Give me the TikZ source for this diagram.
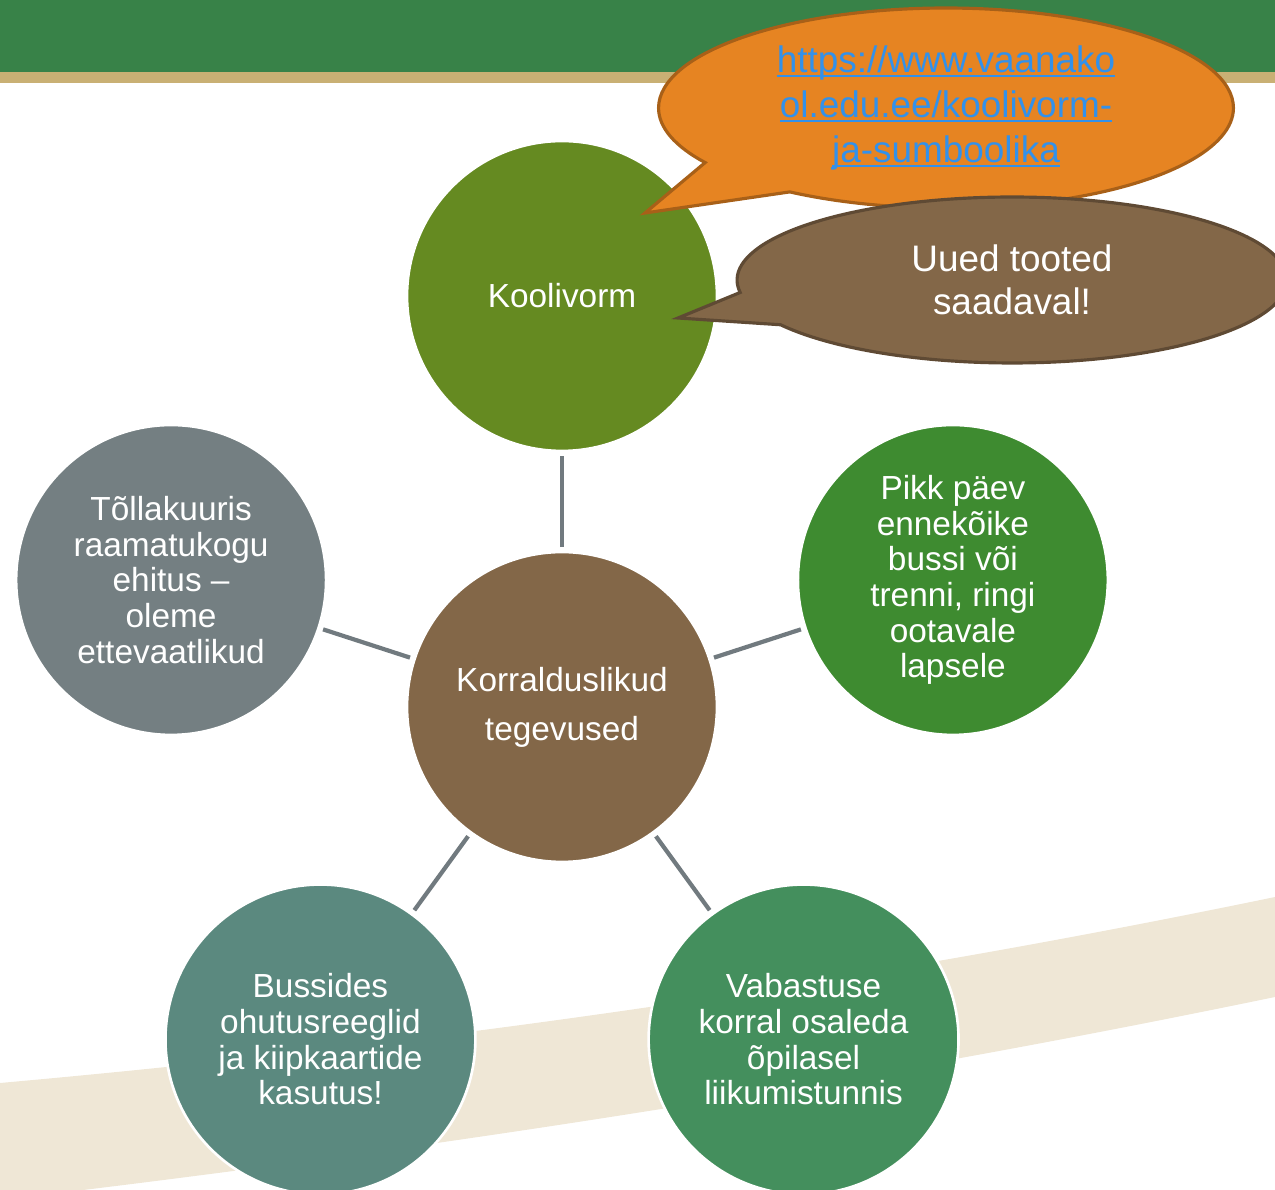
\documentclass[tikz,border=0pt]{standalone}
\usepackage{fontspec}
\setmainfont{Liberation Sans}
\usetikzlibrary{positioning,shapes.callouts,calc}
\definecolor{bannergreen}{RGB}{56,130,72}
\definecolor{bannertan}{RGB}{201,176,116}
\definecolor{bandbeige}{RGB}{239,231,214}
\definecolor{olivegreen}{RGB}{101,138,33}
\definecolor{mybrown}{RGB}{131,103,72}
\definecolor{mygray}{RGB}{116,127,130}
\definecolor{leafgreen}{RGB}{62,139,48}
\definecolor{myteal}{RGB}{91,137,127}
\definecolor{seagreen}{RGB}{68,143,93}
\definecolor{linkgray}{RGB}{113,122,127}
\definecolor{myorange}{RGB}{230,132,34}
\definecolor{orangeedge}{RGB}{168,96,24}
\definecolor{brownedge}{RGB}{95,74,52}
\definecolor{linkblue}{RGB}{50,145,235}
\newsavebox\linkbox
\newcommand\linkline[1]{\sbox\linkbox{#1}\rlap{\rule[-2.6pt]{\wd\linkbox}{1.1pt}}\usebox\linkbox}

\begin{document}
\begin{tikzpicture}[x=0.02cm,y=0.02cm,
    bubble/.style={circle,draw=white,line width=1.5pt,minimum size=6.2cm,inner sep=0pt,
      align=center,text=white,font=\fontsize{19}{20.3}\selectfont},
    connector/.style={draw=linkgray,line width=2.4pt,shorten >=2pt,shorten <=2pt},
    saying/.style={ellipse callout,line width=1.8pt,inner sep=0pt,align=center,callout pointer arc=24}
  ]
  \useasboundingbox (0,0) rectangle (1275,1190);
  \clip (0,0) rectangle (1275,1190);

  % the background
  \fill[bandbeige] (0,107) .. controls (425,145) and (850,205) .. (1275,293)
    -- (1275,193) .. controls (850,105) and (425,40) .. (0,-10) -- cycle;
  \fill[bannergreen] (0,1118) rectangle (1275,1190);
  \fill[bannertan] (0,1107) rectangle (1275,1118);

  % the circles
  \node[bubble,fill=mybrown,font=\fontsize{19}{28}\selectfont] (center) at (562,483) {Korralduslikud\\tegevused};
  \node[bubble,fill=olivegreen] (koolivorm) at ($(center)+(90:411)$) {Koolivorm};
  \node[bubble,fill=mygray] (tollakuuris) at ($(center)+(162:411)$) {Tõllakuuris\\raamatukogu\\ehitus --\\oleme\\ettevaatlikud};
  \node[bubble,fill=leafgreen] (pikkpaev) at ($(center)+(18:411)$) {Pikk päev\\ennekõike\\bussi või\\trenni, ringi\\ootavale\\lapsele};
  \node[bubble,fill=myteal] (bussid) at ($(center)+(234:411)$) {Bussides\\ohutusreeglid\\ja kiipkaartide\\kasutus!};
  \node[bubble,fill=seagreen] (vabastus) at ($(center)+(306:411)$) {Vabastuse\\korral osaleda\\õpilasel\\liikumistunnis};

  % the edges
  \foreach \n in {koolivorm,tollakuuris,pikkpaev,bussid,vabastus}
    \draw[connector] (center) -- (\n);

  % the callouts
  \coordinate (linktip) at (645,977);
  \coordinate (newstip) at (678,872);
  \node[saying,fill=myorange,draw=orangeedge,minimum width=11.5cm,minimum height=4cm,
    callout absolute pointer={(linktip)},text=linkblue,font=\fontsize{21}{25.5}\selectfont]
    (linkbubble) at (946,1082) {\linkline{https://www.vaanako}\\\linkline{ol.edu.ee/koolivorm-}\\\linkline{ja-sumboolika}};
  \node[saying,fill=mybrown,draw=brownedge,minimum width=11cm,minimum height=3.32cm,
    callout absolute pointer={(newstip)},text=white,font=\fontsize{21}{24.4}\selectfont]
    (newsbubble) at (1012,910) {Uued tooted\\saadaval!};
\end{tikzpicture}
\end{document}
